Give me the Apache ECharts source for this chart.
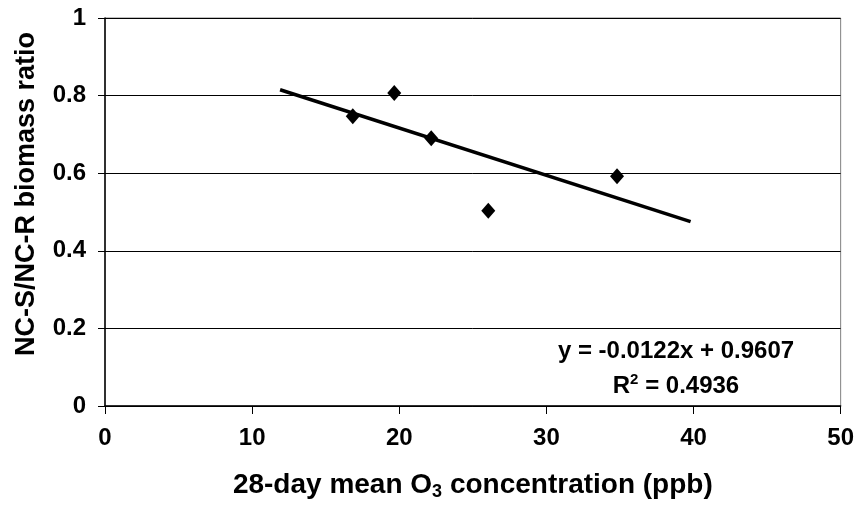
<!DOCTYPE html>
<html>
<head>
<meta charset="utf-8">
<script src="https://cdn.jsdelivr.net/npm/echarts@6/dist/echarts.min.js"></script>
<style>
  html, body { margin: 0; padding: 0; background: #fff; }
  #main { width: 857px; height: 506px; }
</style>
</head>
<body>
<div id="main"></div>
<script>
// measured points (28-day mean O3, biomass ratio)
var ozone = [16.84, 19.66, 22.17, 26.05, 34.8];
var ratio = [0.747, 0.807, 0.690, 0.503, 0.592];

// trend line end points as drawn
var trendX = [11.9, 39.8];
var trendY = [0.815, 0.475];

var eqText = 'y = -0.0122x + 0.9607';
var r2Value = '0.4936';

var points = [];
for (var i = 0; i < ozone.length; i++) {
    points.push([ozone[i], ratio[i]]);
}
var trend = [];
for (var i = 0; i < trendX.length; i++) {
    trend.push([trendX[i], trendY[i]]);
}

var font = 'Liberation Sans, Arial, sans-serif';

var chart = echarts.init(document.getElementById('main'));

var option = {
    backgroundColor: '#fff',
    animation: false,
    grid: {
        left: 105,
        right: 13,
        top: 18,
        bottom: 98,
        show: true,
        borderColor: '#808080',
        borderWidth: 1,
        backgroundColor: '#fff'
    },
    xAxis: {
        type: 'value',
        min: 0,
        max: 50,
        interval: 10,
        name: '{t|28-day mean O}{s|3}{t| concentration (ppb)}',
        nameLocation: 'middle',
        nameGap: 64,
        nameTextStyle: {
            rich: {
                t: { fontFamily: font, fontWeight: 'bold', fontSize: 28, color: '#000' },
                s: { fontFamily: font, fontWeight: 'bold', fontSize: 18, color: '#000', verticalAlign: 'bottom', padding: [13, 0, 0, 0] }
            }
        },
        axisLine: { lineStyle: { color: '#000', width: 1.5 } },
        axisTick: { show: true, length: 8, lineStyle: { color: '#000' } },
        axisLabel: {
            margin: 20,
            fontFamily: font,
            fontWeight: 'bold',
            fontSize: 24,
            color: '#000'
        },
        splitLine: { show: false }
    },
    yAxis: {
        type: 'value',
        min: 0,
        max: 1,
        interval: 0.2,
        name: 'NC-S/NC-R biomass ratio',
        nameLocation: 'middle',
        nameGap: 65,
        nameTextStyle: {
            fontFamily: font,
            fontWeight: 'bold',
            fontSize: 27,
            color: '#000',
            padding: [0, 0, 0, 36]
        },
        axisLine: { show: true, lineStyle: { color: '#000', width: 1.5 } },
        axisTick: { show: true, length: 7, lineStyle: { color: '#000' } },
        axisLabel: {
            margin: 19,
            fontFamily: font,
            fontWeight: 'bold',
            fontSize: 24,
            color: '#000',
            formatter: function (v) {
                return v === 0 || v === 1 ? String(v) : v.toFixed(1);
            }
        },
        splitLine: { show: true, lineStyle: { color: '#000', width: 1 } }
    },
    series: [
        {
            name: 'trend',
            type: 'line',
            data: trend,
            symbol: 'none',
            lineStyle: { color: '#000', width: 3.5 },
            z: 3
        },
        {
            name: 'ratio',
            type: 'scatter',
            data: points,
            symbol: 'diamond',
            symbolSize: [14, 16],
            itemStyle: { color: '#000', opacity: 1 },
            z: 4
        }
    ],
    graphic: [
        {
            type: 'text',
            x: 676,
            y: 351,
            style: {
                text: eqText,
                fontFamily: font,
                fontWeight: 'bold',
                fontSize: 24,
                fill: '#000',
                align: 'center',
                verticalAlign: 'middle'
            },
            z: 10
        },
        {
            type: 'text',
            x: 676,
            y: 386,
            style: {
                text: '{t|R}{s|2}{t| = ' + r2Value + '}',
                align: 'center',
                verticalAlign: 'middle',
                rich: {
                    t: { fontFamily: font, fontWeight: 'bold', fontSize: 24, fill: '#000', color: '#000' },
                    s: { fontFamily: font, fontWeight: 'bold', fontSize: 15, fill: '#000', color: '#000', verticalAlign: 'top', padding: [0, 0, 13, 0] }
                }
            },
            z: 10
        }
    ]
};

chart.setOption(option);
</script>
</body>
</html>
